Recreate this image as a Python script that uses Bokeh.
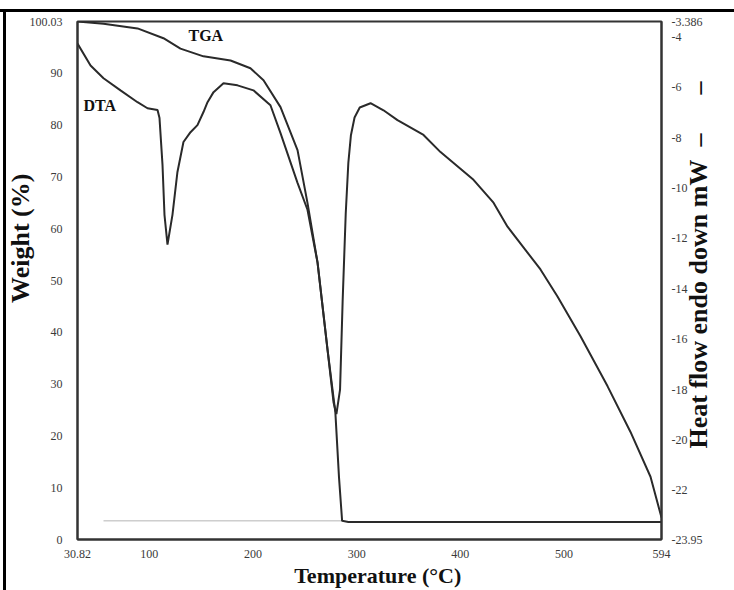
import math
from bokeh.plotting import figure
from bokeh.models import Range1d, LinearAxis, FixedTicker, Label
from bokeh.embed import file_html
from bokeh.resources import INLINE

# ---- data ----
tga_temp = [30.82, 55.9, 88.7, 113.7, 130.1, 152.3, 178.4, 197.6, 210.2, 226.6,
            243.0, 252.6, 262.3, 271.9, 279.5, 283.0, 286.0, 292.0, 594.0]
tga_weight = [100.03, 99.6, 98.7, 96.8, 94.8, 93.3, 92.5, 91.0, 88.7, 83.5,
              75.2, 65.0, 53.5, 36.7, 24.5, 12.0, 3.6, 3.4, 3.4]

dta_temp = [30.82, 43.4, 55.9, 72.3, 88.7, 98.3, 108.0, 109.9, 112.8, 114.7, 117.6,
            122.4, 127.2, 133.0, 139.8, 146.5, 152.3, 156.2, 162.0, 171.6, 185.1,
            200.5, 216.9, 226.6, 243.0, 252.6, 262.3, 271.9, 277.7, 280.5,
            284.0, 286.5, 289.5, 292.0, 294.5, 298.0, 303.0, 313.4, 325.9, 339.4,
            364.5, 380.9, 412.7, 432.0, 445.5, 477.3, 493.7, 515.9, 541.9, 564.1,
            583.4, 594.0]
dta_heat = [-4.26, -5.13, -5.64, -6.12, -6.59, -6.83, -6.90, -7.22, -9.08, -11.06, -12.24,
            -11.06, -9.36, -8.17, -7.78, -7.50, -6.98, -6.59, -6.19, -5.84, -5.92,
            -6.12, -6.71, -7.82, -9.79, -10.86, -12.96, -16.40, -18.50, -18.97,
            -18.0, -14.5, -11.0, -9.0, -7.9, -7.2, -6.8, -6.63, -6.91, -7.30,
            -7.89, -8.57, -9.67, -10.58, -11.53, -13.23, -14.30, -15.88, -17.86, -19.68,
            -21.46, -23.08]

baseline_temp = [55.9, 286.0]
baseline_weight = [3.6, 3.6]

x_ticks = [30.82, 100, 200, 300, 400, 500, 594]
w_ticks = [0, 10, 20, 30, 40, 50, 60, 70, 80, 90, 100.03]
h_ticks = [-3.386, -4, -6, -8, -10, -12, -14, -16, -18, -20, -22, -23.95]

SERIF = "Liberation Serif"
INK = "#2a2a2a"
NB = "\u00a0"

p = figure(width=734, height=590, output_backend="svg", toolbar_location=None,
           x_range=Range1d(30.82, 594), y_range=Range1d(0, 100.03),
           min_border_left=77, min_border_right=73, min_border_top=21, min_border_bottom=49)
p.extra_y_ranges = {"heat": Range1d(-23.95, -3.386)}
p.grid.visible = False
p.outline_line_color = "#333333"
p.outline_line_width = 2
p.background_fill_color = "white"
p.border_fill_color = None
p.styles = {
    "overflow": "hidden",
    "background-color": "#ffffff",
    "background-image": "linear-gradient(to bottom, transparent 9px, #000 9px, #000 12px, transparent 12px), "
                        "linear-gradient(to right, transparent 3px, #000 3px, #000 6px, transparent 6px)",
    "background-size": "100% 100%, 100% 100%",
    "background-position": "0px 0px, 0px 9px",
    "background-repeat": "no-repeat, no-repeat",
}


def style_axis(ax, standoff):
    ax.axis_line_color = "#333333"
    ax.axis_line_width = 2
    ax.major_tick_line_color = None
    ax.minor_tick_line_color = None
    ax.major_label_text_font = SERIF
    ax.major_label_text_font_size = "12px"
    ax.major_label_text_color = "#3a3a3a"
    ax.major_label_standoff = standoff
    ax.axis_label_text_font = SERIF
    ax.axis_label_text_font_style = "bold"
    ax.axis_label_text_color = "#111111"


xa = p.xaxis[0]
xa.ticker = FixedTicker(ticks=x_ticks)
xa.major_label_overrides = {t: str(t) for t in x_ticks}
style_axis(xa, 4)
xa.axis_label = NB * 3 + "Temperature (\u00b0C)"
xa.axis_label_text_font_size = "22px"
xa.axis_label_standoff = 2

ya = p.yaxis[0]
ya.ticker = FixedTicker(ticks=w_ticks)
ya.major_label_overrides = {t: str(t) for t in w_ticks}
style_axis(ya, 9)
ya.axis_label = NB * 13 + "Weight (%)"
ya.axis_label_text_font_size = "26px"
ya.axis_label_standoff = -8

ra = LinearAxis(y_range_name="heat")
ra.ticker = FixedTicker(ticks=h_ticks)
ra.major_label_overrides = {t: str(t) for t in h_ticks}
style_axis(ra, 4)
ra.axis_label = NB * 14 + "Heat flow endo down mW\u2002\u2013\u2003" + NB * 2 + "\u2013"
ra.axis_label_text_font_size = "26px"
ra.axis_label_standoff = -7
try:
    ra.axis_label_orientation = math.pi / 2
except Exception:
    pass
try:
    ra.axis_label_align = "start"
except Exception:
    pass
p.add_layout(ra, "right")

# curves
p.line(baseline_temp, baseline_weight, line_color="#b5b5b5", line_width=1)
p.line(tga_temp, tga_weight, line_color=INK, line_width=2)
p.line(dta_temp, dta_heat, line_color=INK, line_width=2, y_range_name="heat")

# in-plot curve labels
p.add_layout(Label(x=111, y=504, x_units="screen", y_units="screen", text="TGA",
                   text_font=SERIF, text_font_size="16px", text_font_style="bold",
                   text_color="#111111", text_baseline="middle"))
p.add_layout(Label(x=6, y=434, x_units="screen", y_units="screen", text="DTA",
                   text_font=SERIF, text_font_size="16px", text_font_style="bold",
                   text_color="#111111", text_baseline="middle"))

open("out.html", "w").write(file_html(p, INLINE))
